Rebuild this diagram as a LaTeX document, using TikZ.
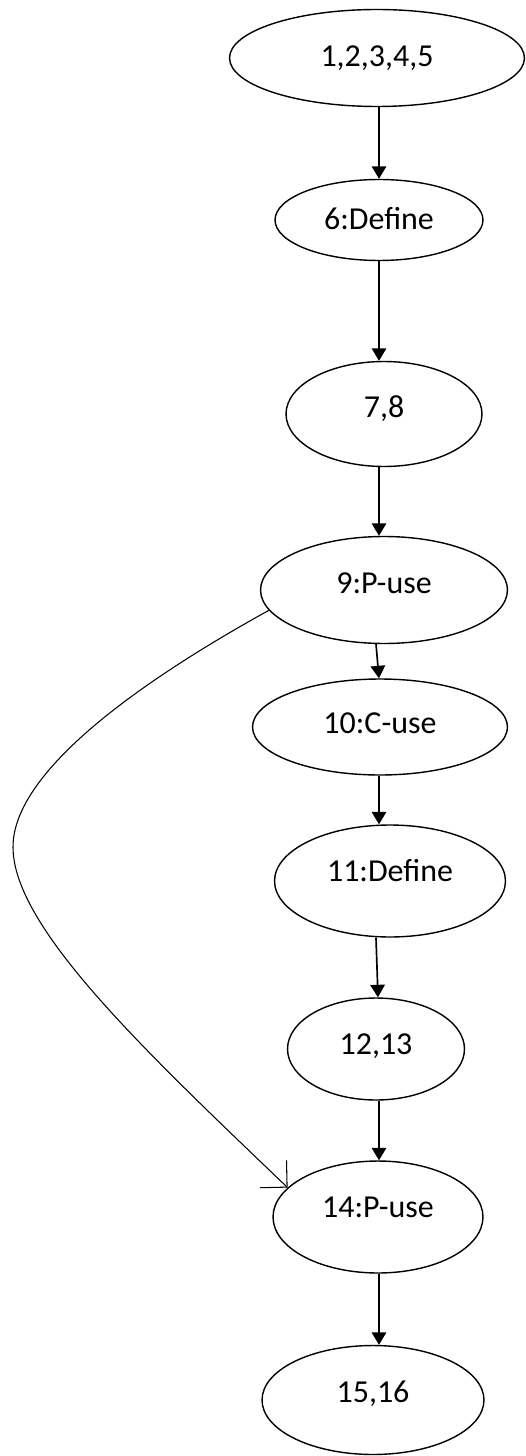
\documentclass[tikz,border=0pt]{standalone}
\usepackage{fontspec}
\setmainfont{Carlito}
\usetikzlibrary{shapes.geometric,arrows.meta}

\begin{document}
\begin{tikzpicture}[x=0.02cm,y=-0.02cm,
    blk/.style={ellipse,draw,line width=0.8pt,inner sep=0pt,
      text height=11pt,text depth=7pt,font=\fontsize{18.2}{21}\selectfont},
    flow/.style={-{Triangle[length=0.25cm,width=0.29cm]},line width=0.95pt},
    back/.style={-{Straight Barb[length=0.38cm,width=0.76cm]},line width=0.6pt}]
  \useasboundingbox (0,0) rectangle (525,1456);
  \node[blk,minimum width=5.9cm,minimum height=1.94cm,text depth=1pt] (n1) at (377,58) {1,2,3,4,5};
  \node[blk,minimum width=4.16cm,minimum height=1.62cm,text depth=0pt] (n6) at (379,220) {6:Define};
  \node[blk,minimum width=3.92cm,minimum height=2.1cm] (n7) at (384,414) {7,8};
  \node[blk,minimum width=4.94cm,minimum height=2.14cm] (n9) at (384,590) {9:P-use};
  \node[blk,minimum width=5.1cm,minimum height=1.92cm,text depth=4pt] (n10) at (380,727) {10:C-use};
  \node[blk,minimum width=4.62cm,minimum height=2.24cm,text depth=10pt] (n11) at (390,881) {11:Define};
  \node[blk,minimum width=3.54cm,minimum height=2.04cm,text depth=5pt] (n12) at (376,1049) {12,13};
  \node[blk,minimum width=4.2cm,minimum height=2.24cm,text depth=11pt] (n14) at (378,1217) {14:P-use};
  \node[blk,minimum width=4.44cm,minimum height=2.18cm,text depth=8pt] (n15) at (373,1400) {15,16};
  \coordinate (turn) at (13,847);

  \path[flow]
    (n1.south -| n6.south) edge (n6.north)
    (n6.south) edge (n7.north -| n6.south)
    (n7.south -| n6.south) edge (n9.north -| n6.south)
    (n9.south -| n12.north) edge (n10.north -| n6.south)
    (n10.south -| n6.south) edge (n11.north -| n6.south)
    (n11.south -| n12.north) edge (n12.north -| n14.north)
    (n12.south -| n6.south) edge (n14.north -| n6.south)
    (n14.south -| n6.south) edge (n15.north -| n6.south);
  \draw[back] (n9.190) .. controls +(-175,97) and +(0,-60) .. (turn)
    .. controls +(0,80) and +(-144,-138) .. (n14.162);
\end{tikzpicture}
\end{document}
